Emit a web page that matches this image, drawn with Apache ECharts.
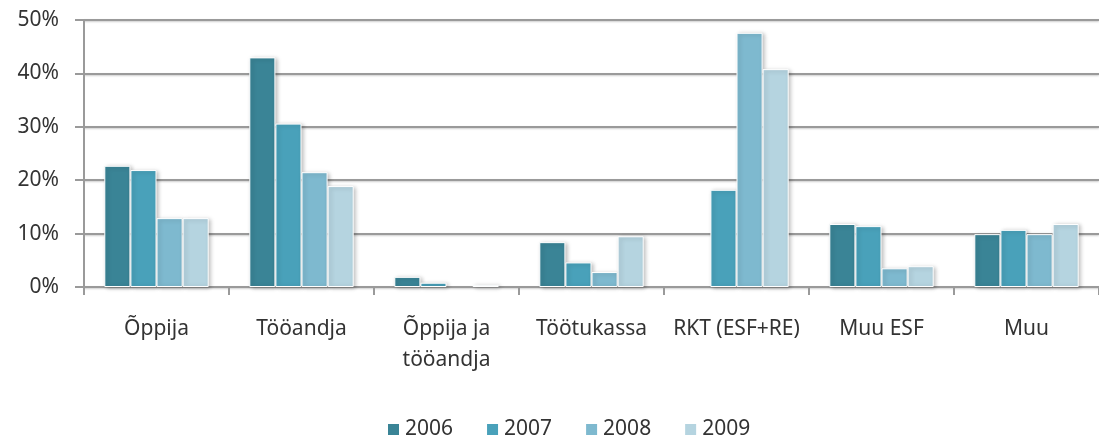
<!DOCTYPE html>
<html><head><meta charset="utf-8">
<script src="https://cdn.jsdelivr.net/npm/echarts@6/dist/echarts.min.js"></script>
<style>html,body{margin:0;padding:0;background:#fff}#c{width:1099px;height:439px}</style>
</head><body><div id="c"></div>
<script>
const categories = ['Õppija', 'Tööandja', 'Õppija ja tööandja', 'Töötukassa', 'RKT (ESF+RE)', 'Muu ESF', 'Muu'];
const years = ['2006', '2007', '2008', '2009'];
const v2006 = [22.7, 43.0, 1.9, 8.4, 0, 11.8, 9.9];
const v2007 = [21.9, 30.6, 0.8, 4.6, 18.2, 11.4, 10.7];
const v2008 = [12.9, 21.5, 0, 2.8, 47.6, 3.5, 9.9];
const v2009 = [12.9, 18.9, 0.4, 9.5, 40.8, 3.9, 11.8];
const yTicks = [0, 10, 20, 30, 40, 50];
const colors = ['#3A8496', '#49A1BA', '#7EB9CF', '#B5D4E0'];
const seriesValues = [v2006, v2007, v2008, v2009];

const chart = echarts.init(document.getElementById('c'), null, {renderer: 'canvas'});
const font = '"Noto Sans", sans-serif';
const txt = '#333333';
chart.setOption({
  animation: false,
  color: colors,
  grid: {left: 84, top: 20, width: 1024, bottom: 152, containLabel: false},
  legend: {
    top: 414, left: 381, itemWidth: 13, itemHeight: 13, itemGap: 32, itemTextGap: 7,
    icon: 'rect',
    textStyle: {fontFamily: font, fontSize: 21, color: txt},
    data: years
  },
  xAxis: {
    type: 'category', data: categories,
    axisLine: {show: true, lineStyle: {color: '#9a9a9a', width: 2}},
    axisTick: {show: true, length: 8, lineStyle: {color: '#9a9a9a', width: 2}},
    axisLabel: {
      margin: 27, fontFamily: font, fontSize: 21, color: txt, lineHeight: 31,
      interval: 0,
      formatter: v => v === 'Õppija ja tööandja' ? 'Õppija ja\ntööandja' : v
    }
  },
  yAxis: {
    type: 'value', min: yTicks[0], max: yTicks[yTicks.length - 1], interval: 10,
    axisLine: {show: true, lineStyle: {color: '#9a9a9a', width: 2}},
    axisTick: {show: true, length: 9, lineStyle: {color: '#9a9a9a', width: 2}},
    axisLabel: {fontFamily: font, fontSize: 21, color: txt, margin: 25, formatter: v => v + '%'},
    splitLine: {lineStyle: {color: '#9a9a9a', width: 2, shadowColor: 'rgba(0,0,0,0.2)', shadowBlur: 2, shadowOffsetY: 1}}
  },
  series: years.map((y, i) => ({
    name: y, type: 'bar',
    data: seriesValues[i].map(v => v === 0 ? null : v),
    barGap: '0%', barCategoryGap: '28%',
    itemStyle: {
      color: colors[i], borderColor: '#ffffff', borderWidth: 1,
      shadowColor: 'rgba(0,0,0,0.25)', shadowBlur: 4, shadowOffsetX: 2, shadowOffsetY: 1
    }
  }))
});
</script></body></html>
